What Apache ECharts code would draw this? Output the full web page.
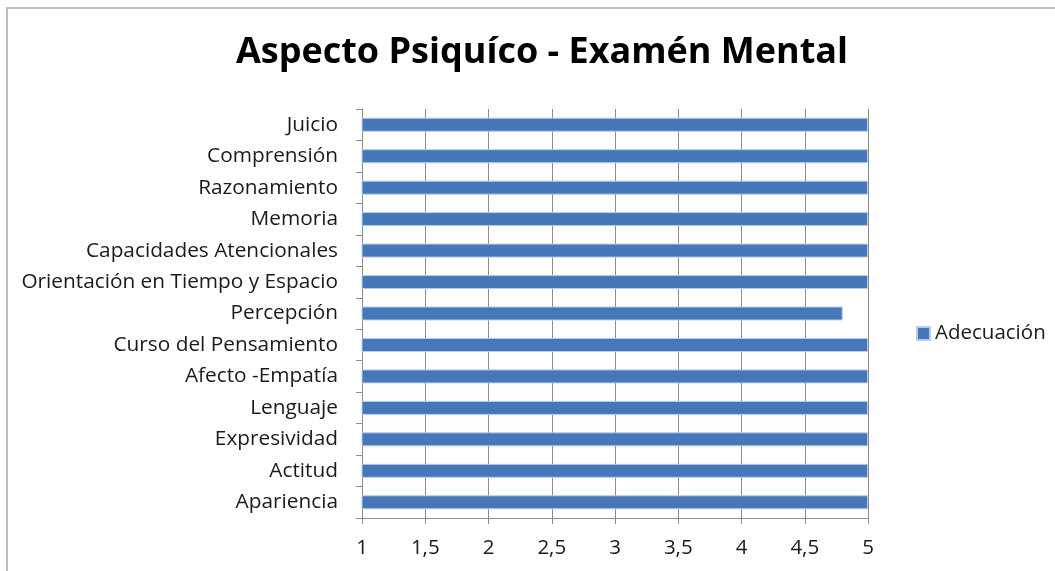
<!DOCTYPE html>
<html>
<head>
<meta charset="utf-8">
<script src="https://cdn.jsdelivr.net/npm/echarts@6/dist/echarts.min.js"></script>
<style>html,body{margin:0;padding:0;background:#fff}#c{width:1055px;height:571px}</style>
</head>
<body>
<div id="c"></div>
<script>
const titleText = 'Aspecto Psiquíco - Examén Mental';
const seriesName = 'Adecuación';
const categories = ['Apariencia','Actitud','Expresividad','Lenguaje','Afecto -Empatía','Curso del Pensamiento','Percepción','Orientación en Tiempo y Espacio','Capacidades Atencionales','Memoria','Razonamiento','Comprensión','Juicio'];
const values = [5,5,5,5,5,5,4.8,5,5,5,5,5,5];

const chart = echarts.init(document.getElementById('c'));
const font = 'Open Sans';
chart.setOption({
  animation:false,
  backgroundColor:'#fff',
  graphic:[{type:'rect',shape:{x:7,y:8,width:1100,height:600},style:{fill:'none',stroke:'#bdbdbd',lineWidth:2},silent:true}],
  title:{text:titleText,left:537,textAlign:'center',top:30,textStyle:{fontFamily:font,fontWeight:'bold',fontSize:36,color:'#000'}},
  legend:{data:[seriesName],left:911,top:318,itemWidth:13,itemHeight:13,itemGap:6,icon:'rect',textStyle:{fontFamily:font,fontSize:20.5,color:'#1a1a1a'}},
  grid:{left:362,right:187,top:109,bottom:53},
  xAxis:{type:'value',min:1,max:5,interval:0.5,
    axisLine:{show:true,lineStyle:{color:'#8c8c8c'}},
    axisTick:{show:true,length:6,lineStyle:{color:'#8c8c8c'}},
    axisLabel:{fontFamily:font,fontSize:20.5,color:'#1a1a1a',margin:20,formatter:v=>String(v).replace('.',',')},
    splitLine:{show:true,lineStyle:{color:'#8c8c8c',width:1}}},
  yAxis:{type:'category',data:categories,
    axisLine:{show:true,lineStyle:{color:'#8c8c8c'}},
    axisTick:{show:true,length:6,lineStyle:{color:'#8c8c8c'}},
    axisLabel:{fontFamily:font,fontSize:20.8,color:'#1a1a1a',margin:24}},
  series:[{name:seriesName,type:'bar',data:values,barWidth:14,
    itemStyle:{color:'#4677b8',borderColor:'#b4cdea',borderWidth:1}}]
});
</script>
</body>
</html>
